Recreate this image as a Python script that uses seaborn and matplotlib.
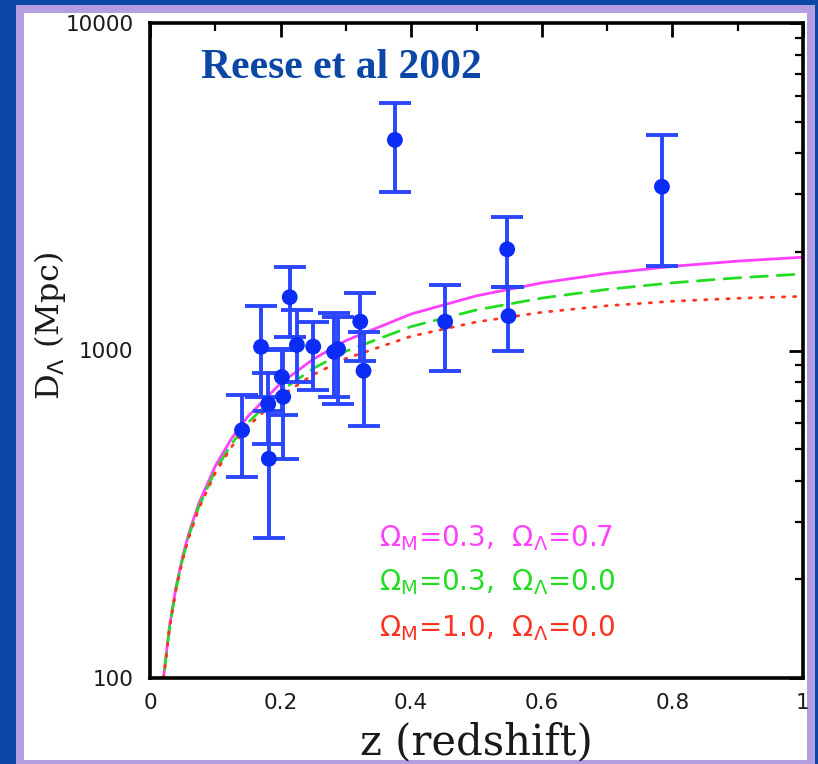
import numpy as np
import pandas as pd
import matplotlib
matplotlib.use("Agg")
import matplotlib.pyplot as plt
import seaborn as sns
from matplotlib.patches import Rectangle
from matplotlib.ticker import FixedLocator, NullFormatter, FixedFormatter

# ---------------- data ----------------
cluster_z = [0.141, 0.170, 0.182, 0.181, 0.202, 0.204, 0.214, 0.225, 0.250,
             0.282, 0.288, 0.322, 0.327, 0.375, 0.452, 0.547, 0.549, 0.784]
cluster_da = [571, 1026, 467, 687, 830, 722, 1455, 1040, 1028,
              990, 1010, 1225, 867, 4396, 1225, 2037, 1274, 3163]
err_hi = [160, 345, 185, 166, 173, 290, 348, 291, 190,
          312, 258, 275, 274, 1304, 360, 516, 286, 1387]
err_lo = [160, 306, 200, 169, 195, 255, 356, 240, 272,
          268, 323, 296, 279, 1341, 360, 477, 279, 1352]

curve_z = [0.015, 0.02, 0.03, 0.04, 0.05, 0.06, 0.075, 0.1, 0.125, 0.15, 0.2,
           0.25, 0.3, 0.4, 0.5, 0.6, 0.7, 0.8, 0.9, 1.0]
da_lcdm = [73.6, 97.5, 144.5, 190.4, 235.2, 279.0, 342.6, 443.8, 539.2, 629.1,
           794.0, 940.9, 1071.9, 1292.9, 1468.9, 1608.8, 1719.6, 1806.8, 1874.8, 1927.2]
da_open = [73.2, 96.9, 143.1, 187.9, 231.4, 273.6, 334.5, 430.2, 519.2, 602.0,
           751.2, 881.3, 995.2, 1183.4, 1330.1, 1445.5, 1536.8, 1609.3, 1666.9, 1712.7]
da_eds = [73.0, 96.5, 142.3, 186.6, 229.4, 270.7, 330.1, 422.8, 508.0, 586.5,
          725.6, 844.0, 945.0, 1105.3, 1222.5, 1308.0, 1369.8, 1413.7, 1443.9, 1463.4]

model_names = ["lcdm", "open", "eds"]
model_labels = [r"$\Omega_{\rm M}$=0.3,  $\Omega_\Lambda$=0.7",
                r"$\Omega_{\rm M}$=0.3,  $\Omega_\Lambda$=0.0",
                r"$\Omega_{\rm M}$=1.0,  $\Omega_\Lambda$=0.0"]
model_colors = ["#ff40ff", "#22dd22", "#ff3322"]

x_ticks = [0, 0.2, 0.4, 0.6, 0.8, 1.0]
x_ticklabels = ["0", "0.2", "0.4", "0.6", "0.8", "1"]
y_ticks = [100, 1000, 10000]
y_ticklabels = ["100", "1000", "10000"]

title_text = "Reese et al 2002"
xlabel_text = "z (redshift)"
ylabel_text = r"D$_\Lambda$ (Mpc)"

# ---------------- figure ----------------
sns.set_style("white")
W, H = 818, 764
fig = plt.figure(figsize=(W / 100, H / 100), dpi=100)
fig.patch.set_facecolor("#0a47a6")

def frect(x0, y0, x1, y1, color):
    fig.patches.append(Rectangle((x0 / W, 1 - y1 / H), (x1 - x0) / W, (y1 - y0) / H,
                                 transform=fig.transFigure, facecolor=color,
                                 edgecolor="none", zorder=-10))

frect(16, 5, 815, 770, "#b49ee2")
frect(24, 13, 807, 760, "white")

ax_l, ax_r, ax_t, ax_b = 150, 803, 23, 678
ax = fig.add_axes([ax_l / W, 1 - ax_b / H, (ax_r - ax_l) / W, (ax_b - ax_t) / H])
ax.set_facecolor("white")

curves = pd.DataFrame({
    "z": curve_z * 3,
    "da": da_lcdm + da_open + da_eds,
    "model": [m for m in model_names for _ in curve_z],
})
sns.lineplot(data=curves, x="z", y="da", hue="model", style="model",
             hue_order=model_names, style_order=model_names,
             palette=dict(zip(model_names, model_colors)),
             dashes={"lcdm": "", "open": (6, 3.6), "eds": (0.8, 3.2)},
             estimator=None, sort=False, legend=False, linewidth=2.0,
             dash_capstyle="round", ax=ax, zorder=2)

ax.errorbar(cluster_z, cluster_da, yerr=[err_lo, err_hi], fmt="none",
            ecolor="#2a46ff", elinewidth=2.8, capsize=11.5, capthick=2.8,
            zorder=3)
pts = pd.DataFrame({"z": cluster_z, "da": cluster_da})
sns.scatterplot(data=pts, x="z", y="da", color="#0a2cf5", s=130,
                edgecolor="none", ax=ax, zorder=4, legend=False)

ax.set_yscale("log")
ax.set_xlim(0, 1)
ax.set_ylim(100, 10000)

ax.xaxis.set_major_locator(FixedLocator(x_ticks))
ax.xaxis.set_major_formatter(FixedFormatter(x_ticklabels))
ax.xaxis.set_minor_locator(FixedLocator([0.1, 0.3, 0.5, 0.7, 0.9]))
ax.yaxis.set_major_locator(FixedLocator(y_ticks))
ax.yaxis.set_major_formatter(FixedFormatter(y_ticklabels))
ax.yaxis.set_minor_locator(FixedLocator([k * 10 ** e for e in (2, 3) for k in range(2, 10)]))
ax.yaxis.set_minor_formatter(NullFormatter())

ax.tick_params(which="both", direction="in", top=True, right=True,
               color="black")
ax.tick_params(which="major", length=10, width=2.0)
ax.tick_params(which="minor", length=6, width=1.6)
ax.tick_params(axis="x", which="major", pad=11, labelsize=15.5, labelcolor="#1a1a1a")
ax.tick_params(axis="y", which="major", pad=12, labelsize=15.5, labelcolor="#1a1a1a")
for s in ax.spines.values():
    s.set_linewidth(2.6)
    s.set_color("black")

ax.set_xlabel("")
ax.set_ylabel("")

ax.text(0.078, 0.916, title_text, transform=ax.transAxes, ha="left",
        va="baseline", fontsize=30, fontweight="bold",
        family="Liberation Serif", color="#0a47a6")

for i, (lab, col) in enumerate(zip(model_labels, model_colors)):
    ax.text(0.351, [0.2137, 0.1466, 0.0763][i], lab, transform=ax.transAxes,
            ha="left", va="center", fontsize=20, color=col)

fig.text(476 / W, 1 - 742 / H, xlabel_text, ha="center", va="center",
         fontsize=30, family="DejaVu Serif", color="#1a1a1a")
fig.text(50 / W, 1 - 326 / H, ylabel_text, ha="center", va="center",
         rotation=90, fontsize=23, family="DejaVu Serif", color="#1a1a1a")

fig.savefig("out.png", dpi=100, facecolor=fig.get_facecolor())
